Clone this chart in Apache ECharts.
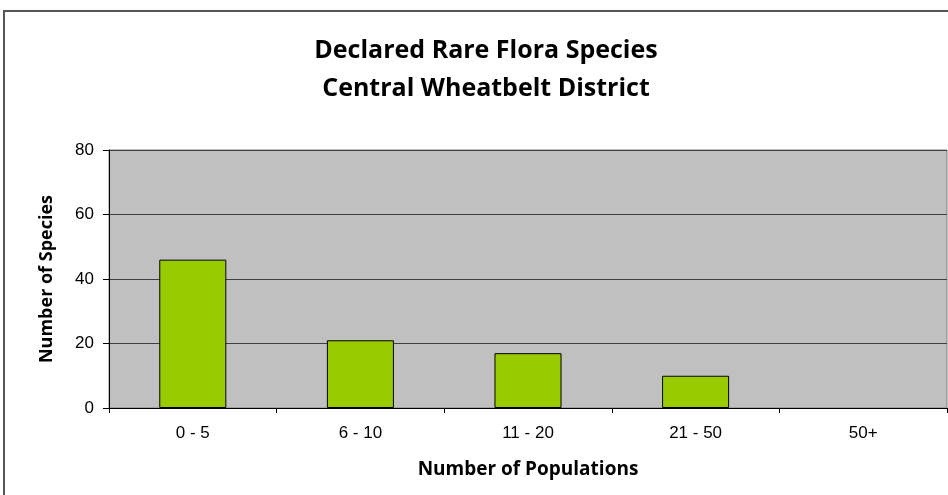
<!DOCTYPE html>
<html>
<head>
<meta charset="utf-8">
<script src="https://cdn.jsdelivr.net/npm/echarts@6/dist/echarts.min.js"></script>
<style>
  html, body { margin: 0; padding: 0; background: #fff; }
  #chart { width: 948px; height: 495px; }
</style>
</head>
<body>
<div id="chart"></div>
<script>
const categories = ['0 - 5', '6 - 10', '11 - 20', '21 - 50', '50+']
const speciesCounts = [46, 21, 17, 10, 0]
const yTicks = [0, 20, 40, 60, 80]

const chart = echarts.init(document.getElementById('chart'))

const titleStyle = { fontFamily: 'Open Sans', fontWeight: 'bold', fontSize: 25, color: '#000' }

chart.setOption({
    animation: false,
    graphic: [
        {
            type: 'rect',
            shape: { x: 4, y: 11, width: 960, height: 500 },
            style: { fill: 'none', stroke: '#555', lineWidth: 2 },
            z: -10
        }
    ],
    title: [
        { text: 'Declared Rare Flora Species', left: 481, top: 33, textAlign: 'center', textStyle: titleStyle },
        { text: 'Central Wheatbelt District', left: 481, top: 71, textAlign: 'center', textStyle: titleStyle }
    ],
    grid: {
        left: 109, right: 1, top: 150, bottom: 87,
        show: true,
        backgroundColor: '#C0C0C0',
        borderColor: '#808080',
        borderWidth: 1
    },
    xAxis: {
        type: 'category',
        data: categories,
        boundaryGap: true,
        name: 'Number of Populations',
        nameLocation: 'middle',
        nameGap: 52,
        nameTextStyle: { fontFamily: 'Open Sans', fontWeight: 'bold', fontSize: 19, color: '#000' },
        axisLine: { lineStyle: { color: '#000', width: 1 } },
        axisTick: { show: true, length: 5, lineStyle: { color: '#000' } },
        axisLabel: { fontFamily: 'Liberation Sans', fontSize: 17, color: '#000', margin: 17 }
    },
    yAxis: {
        type: 'value',
        min: yTicks[0],
        max: yTicks[yTicks.length - 1],
        interval: 20,
        name: 'Number of Species',
        nameLocation: 'middle',
        nameGap: 53,
        nameTextStyle: { fontFamily: 'Open Sans', fontWeight: 'bold', fontSize: 18, color: '#000' },
        axisLine: { show: true, lineStyle: { color: '#000', width: 1 } },
        axisTick: { show: true, length: 6, lineStyle: { color: '#000' } },
        axisLabel: { fontFamily: 'Liberation Sans', fontSize: 17, color: '#000', margin: 15 },
        splitLine: { show: true, lineStyle: { color: '#404040', width: 1 } }
    },
    series: [
        {
            type: 'bar',
            data: speciesCounts.map(v => ({
                value: v,
                itemStyle: { borderWidth: v === 0 ? 0 : 1 }
            })),
            barWidth: '40%',
            itemStyle: { color: '#99CC00', borderColor: '#000', borderWidth: 1 }
        }
    ]
})
</script>
</body>
</html>
